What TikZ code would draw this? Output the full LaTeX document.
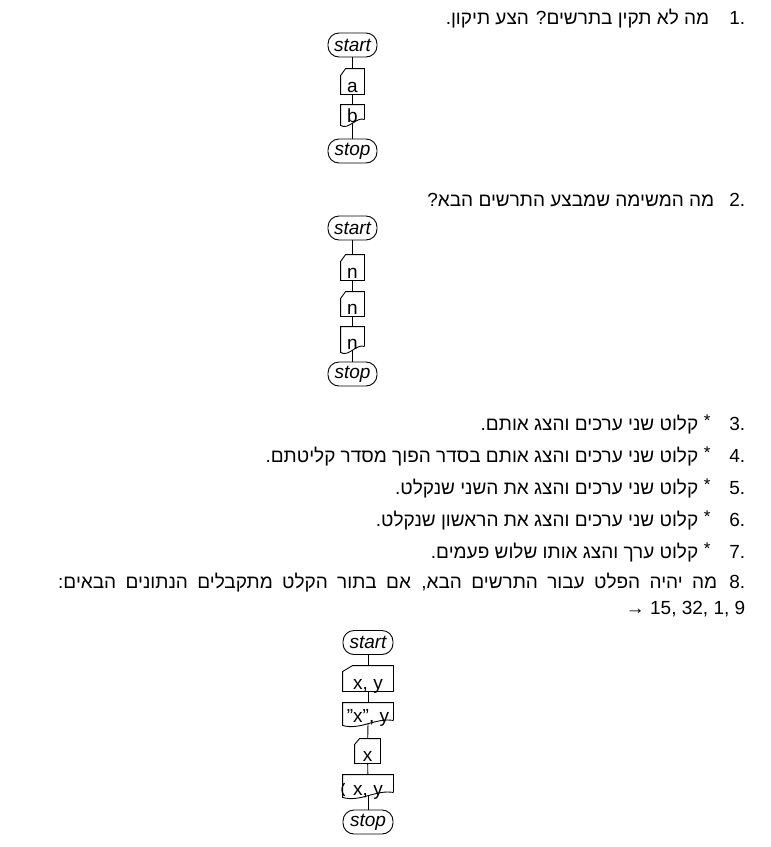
\documentclass[tikz,border=0pt]{standalone}
\usepackage{fontspec}
\setmainfont{Liberation Sans}
\newfontfamily\heb[Script=Hebrew]{Liberation Sans}
\TeXXeTstate=1
\hbadness=10000
\usetikzlibrary{calc}
\newcommand\cardpath[3]{\draw ($(#1.north west)+(0,#3)$) -- ($(#1.north west)+(#2,0)$) -- (#1.north east) -- (#1.south east) -- (#1.south west) -- cycle;}
\newcommand\outpath[2]{\draw ($(#1.south east)+(0,-#2)$) -- (#1.north east) -- (#1.north west) -- (#1.south west) .. controls ($(#1.south west)!0.35!(#1.south east)+(0,5)$) and ($(#1.south west)!0.65!(#1.south east)+(0,-#2-3)$) .. ($(#1.south east)+(0,-#2)$);}
\begin{document}
\begin{tikzpicture}[x=1pt,y=-1pt,line width=0.9pt,
  every node/.style={font=\fontsize{19}{23}\selectfont},
  term/.style={draw, rectangle, rounded corners=11pt, minimum width=#1pt, minimum height=24pt, inner sep=0pt, font=\fontsize{19}{23}\selectfont\itshape},
  term/.default=49,
  iob/.style n args={3}{rectangle, inner sep=0pt, minimum width=#1pt, text height=#2pt, text depth=#3pt},
  num/.style={anchor=base east},
  hebline/.style={anchor=base east, font=\heb\fontsize{19}{23}\selectfont},
  star/.style={anchor=base east, inner sep=0pt, font=\fontsize{17}{20}\selectfont}]
\useasboundingbox (0,0) rectangle (771,847);

% ---- question texts ----
\node[num] (n1) at (749,24) {1.};
\node[hebline] (t1) at (713,24) {\beginR מה לא תקין בתרשים? הצע תיקון.\endR};
\node[num] (n2) at (749,206) {2.};
\node[hebline] (t2) at (718,206) {\beginR מה המשימה שמבצע התרשים הבא?\endR};
\node[num] (n3) at (749,430) {3.};
\node[star] (st3) at (711,426) {*};
\node[hebline] (t3) at (702,430) {\beginR קלוט שני ערכים והצג אותם.\endR};
\node[num] (n4) at (749,462) {4.};
\node[star] (st4) at (711,458) {*};
\node[hebline] (t4) at (702,462) {\beginR קלוט שני ערכים והצג אותם בסדר הפוך מסדר קליטתם.\endR};
\node[num] (n5) at (749,494) {5.};
\node[star] (st5) at (711,490) {*};
\node[hebline] (t5) at (702,494) {\beginR קלוט שני ערכים והצג את השני שנקלט.\endR};
\node[num] (n6) at (749,526) {6.};
\node[star] (st6) at (711,522) {*};
\node[hebline] (t6) at (702,526) {\beginR קלוט שני ערכים והצג את הראשון שנקלט.\endR};
\node[num] (n7) at (749,558) {7.};
\node[star] (st7) at (711,554) {*};
\node[hebline] (t7) at (702,558) {\beginR קלוט ערך והצג אותו שלוש פעמים.\endR};
\node[num] (n8) at (749,588) {8.};
\node[hebline] (t8) at (721,588) {\hbox to 659pt{\beginR מה יהיה הפלט עבור התרשים הבא, אם בתור הקלט מתקבלים הנתונים הבאים:\endR}};
\node[num] (inp) at (749,614) {→ 15, 32, 1, 9};

% ---- flowchart 1 ----
\node[term] (s1) at (352.5,45) {start};
\node[iob={23}{23}{2}] (a1) at (352.5,81.5) {a};
\node[iob={23}{17}{3}] (b1) at (352.5,115) {b};
\node[term] (e1) at (352.5,151) {stop};
\cardpath{a1}{5}{7}
\outpath{b1}{6}
\draw (s1) -- (a1);
\draw (a1) -- (b1);
\draw ([yshift=2pt]b1.south) -- (e1);

% ---- flowchart 2 ----
\node[term] (s2) at (352.5,228) {start};
\node[iob={23}{23}{2}] (c1) at (352.5,267.5) {n};
\node[iob={23}{22}{2}] (c2) at (352.5,304) {n};
\node[iob={23}{22}{3}] (c3) at (352.5,339.5) {n};
\node[term] (e2) at (352.5,374) {stop};
\cardpath{c1}{5}{7}
\cardpath{c2}{5}{7}
\outpath{c3}{6}
\draw (s2) -- (c1);
\draw (c1) -- (c2);
\draw (c2) -- (c3);
\draw ([yshift=2pt]c3.south) -- (e2);

% ---- flowchart 3 ----
\node[term=50] (s3) at (368,642.5) {start};
\node[iob={50}{23.5}{1.5}] (d1) at (368,678.5) {x, y};
\node[iob={50}{19}{3}] (d2) at (368,714) {"x", y};
\node[iob={25}{22.5}{1.5}] (d3) at (367.5,751) {x};
\node[iob={50}{20}{2}] (d4) at (368,786) {x, y};
\node[term=50] (e3) at (368,822) {stop};
\cardpath{d1}{10}{6}
\outpath{d2}{5}
\cardpath{d3}{5}{6}
\outpath{d4}{5}
\draw[line width=1.2pt] (344.5,783) .. controls (341,787) and (341,792) .. (344.5,796);
\draw (s3) -- (d1);
\draw (d1) -- (d2);
\draw ([yshift=2pt]d2.south) -- (d3);
\draw (d3) -- (d4);
\draw ([yshift=2pt]d4.south) -- (e3);
\end{tikzpicture}
\end{document}
